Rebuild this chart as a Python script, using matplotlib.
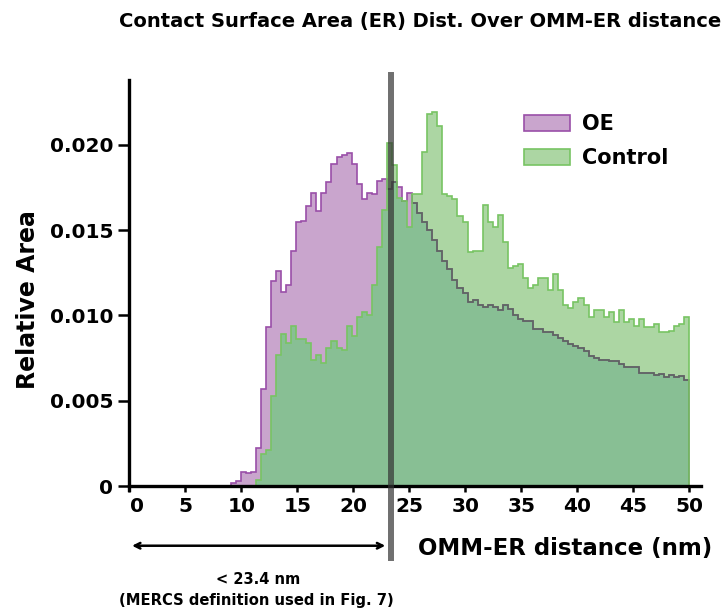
import numpy as np
import matplotlib.pyplot as plt
from matplotlib.patches import Patch
from matplotlib.transforms import ScaledTranslation

# bin edges (nm): 91 bins of 0.45 nm ending at 50
edges = np.linspace(9.05, 50, 92)

oe = [0.0002, 0.0003, 0.0008, 0.00075, 0.00084, 0.0022, 0.0057, 0.0093, 0.0120, 0.0126,
      0.0114, 0.0118, 0.0138, 0.0155, 0.01555, 0.0164, 0.0172, 0.0161, 0.0172, 0.0178,
      0.0189, 0.0193, 0.0194, 0.0195, 0.0189, 0.0177, 0.0168, 0.0172, 0.0171, 0.0179,
      0.0180, 0.0174, 0.0178, 0.0175, 0.0167, 0.0172, 0.0166, 0.0160, 0.0155, 0.0150,
      0.0144, 0.0138, 0.0132, 0.0127, 0.0121, 0.0116, 0.0113, 0.0108, 0.0109, 0.0106,
      0.0105, 0.0106, 0.0105, 0.0103, 0.0106, 0.0104, 0.0100, 0.0098, 0.0097, 0.0097,
      0.0092, 0.0092, 0.0090, 0.0090, 0.00885, 0.0087, 0.0085, 0.0083, 0.0082, 0.0081,
      0.0079, 0.0076, 0.0075, 0.0074, 0.0074, 0.0073, 0.0073, 0.00715, 0.0070, 0.0070,
      0.0070, 0.0066, 0.0066, 0.0066, 0.0065, 0.00655, 0.0064, 0.0065, 0.0064, 0.00645,
      0.0062]

control = [0, 0, 0, 0, 0, 0.00035, 0.0019, 0.0021, 0.0053, 0.0077,
           0.0089, 0.0084, 0.0094, 0.0086, 0.0086, 0.0084, 0.0074, 0.0077, 0.0072, 0.0081,
           0.0085, 0.0081, 0.0080, 0.0094, 0.0088, 0.0099, 0.0102, 0.0100, 0.0118, 0.0140,
           0.0162, 0.0201, 0.0188, 0.0169, 0.0167, 0.0152, 0.0171, 0.0171, 0.0196, 0.0218,
           0.0219, 0.0211, 0.0171, 0.0170, 0.0168, 0.0158, 0.0155, 0.0137, 0.0138, 0.0138,
           0.0165, 0.0155, 0.0152, 0.0159, 0.0143, 0.0128, 0.0129, 0.0130, 0.0122, 0.0116,
           0.0118, 0.0122, 0.0122, 0.0115, 0.0124, 0.0115, 0.0106, 0.01045, 0.0108, 0.0110,
           0.0106, 0.0099, 0.0103, 0.0103, 0.0099, 0.0102, 0.0096, 0.0103, 0.0096, 0.0098,
           0.0094, 0.0098, 0.0093, 0.0093, 0.0095, 0.0090, 0.0090, 0.0091, 0.0094, 0.0095,
           0.0099]

cutoff = 23.4
xticks = np.arange(0, 51, 5)
yticks = [0, 0.005, 0.010, 0.015, 0.020]
ytick_labels = ['0', '0.005', '0.010', '0.015', '0.020']

oe_face, oe_edge = '#c9a5cd', '#9a4fa8'
ctl_face, ctl_edge = '#acd6a3', '#78c463'
both_face = '#88bf94'

plt.rcParams['font.family'] = 'DejaVu Sans'
plt.rcParams['font.weight'] = 'bold'

fig = plt.figure(figsize=(7.25, 6.13), dpi=100)
ax = fig.add_axes([0.1783, 0.2002, 0.788, 0.6693])

# filled areas: control only, OE only, and where they overlap
ctl_patch = ax.stairs(control, edges, fill=True, color=ctl_face, zorder=1)
ax.stairs(oe, edges, fill=True, color=oe_face, zorder=1.1)
ax.stairs(np.minimum(oe, control), edges, fill=True, color=both_face, zorder=1.2)

# OE outline: purple above the control area, greyed where seen through it
ax.stairs(oe, edges, baseline=0, color=oe_edge, linewidth=1.2, zorder=1.3)
grey = ax.stairs(oe, edges, baseline=0, color='#5b6a5e', linewidth=1.2, zorder=1.4)
grey.set_clip_path(ctl_patch)
ax.stairs(control, edges, baseline=0, color=ctl_edge, linewidth=1.2, zorder=1.5)

# MERCS cutoff line
ax.plot([cutoff, cutoff], [-0.0042, 0.0241], color=(0.2, 0.2, 0.2, 0.7),
        linewidth=4.3, clip_on=False, zorder=5)

ax.set_xlim(0, 51)
ax.set_ylim(-0.00025, 0.0238)
ax.spines['top'].set_visible(False)
ax.spines['right'].set_visible(False)
ax.spines['bottom'].set_position(('data', 0))
ax.spines['left'].set_linewidth(2.4)
ax.spines['bottom'].set_linewidth(2.4)

ax.set_xticks(xticks)
ax.set_yticks(yticks)
ax.set_yticklabels(ytick_labels)
ax.tick_params(axis='x', length=4, width=1.8, labelsize=14.5, pad=4)
ax.tick_params(axis='y', length=8, width=1.8, labelsize=14.5, pad=3.5)
# the "0" x label sits a little right of its tick
lbl0 = ax.get_xticklabels()[0]
lbl0.set_transform(lbl0.get_transform() + ScaledTranslation(0.08, 0, fig.dpi_scale_trans))

fig.text(28 / 725, 1 - 300 / 613, 'Relative Area', rotation=90,
         ha='center', va='center', fontsize=17, fontweight='bold')
fig.text(565 / 725, 1 - 548 / 613, 'OMM-ER distance (nm)',
         ha='center', va='center', fontsize=16.5, fontweight='bold')
fig.text(420 / 725, 1 - 21 / 613,
         'Contact Surface Area (ER) Dist. Over OMM-ER distance',
         ha='center', va='center', fontsize=14, fontweight='bold')

ax.annotate('', xy=(0, -0.0035), xytext=(cutoff - 0.3, -0.0035),
            arrowprops=dict(arrowstyle='<->', color='black', lw=1.8),
            annotation_clip=False)
fig.text(258 / 725, 1 - 580 / 613, '< 23.4 nm', ha='center', va='center',
         fontsize=10.5, fontweight='bold')
fig.text(256 / 725, 1 - 600 / 613, '(MERCS definition used in Fig. 7)',
         ha='center', va='center', fontsize=10.6, fontweight='bold')

handles = [Patch(facecolor=oe_face, edgecolor=oe_edge, linewidth=1.2, label='OE'),
           Patch(facecolor=ctl_face, edgecolor=ctl_edge, linewidth=1.2, label='Control')]
ax.legend(handles=handles, loc='upper left', bbox_to_anchor=(524 / 725, 1 - 114 / 613),
          bbox_transform=fig.transFigure, frameon=False, fontsize=15,
          handlelength=2.2, handleheight=0.8, labelspacing=0.68,
          handletextpad=0.6, borderpad=0, borderaxespad=0)

fig.savefig('out.png', dpi=100)
